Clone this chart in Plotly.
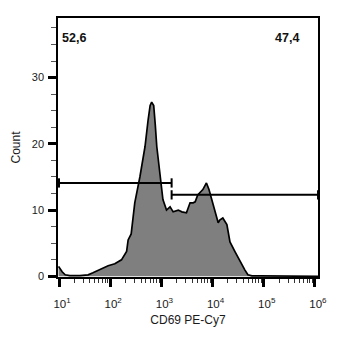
import plotly.graph_objects as go

# Histogram (fluorescence intensity, count)
intensity = [9.8, 10.5, 11.5, 13.2, 16.2, 25.7, 37, 46, 58, 72, 91, 123, 166, 209, 224, 257,
             302, 380, 437, 479, 550, 603, 646, 708, 759, 813, 933, 1072, 1259, 1479, 1698,
             2138, 2512, 3090, 3631, 4169, 4571, 5129, 6457, 7586, 8511, 9550, 11220, 12880,
             13800, 15850, 19050, 21880, 27540, 37150, 42660, 48980, 58880, 85110, 501000, 1148000]
count = [1.5, 1.13, 0.68, 0.23, 0.1, 0.1, 0.23, 0.53, 0.88, 1.28, 1.59, 1.89, 2.49, 3.75, 5.5, 6.4,
         11.1, 15.0, 17.6, 19.6, 23.6, 25.8, 26.3, 25.8, 22.9, 19.6, 15.6, 11.6, 10.0, 10.5, 9.74,
         10.0, 9.74, 9.6, 11.1, 11.1, 11.25, 12.3, 13.1, 14.1, 13.1, 11.6, 9.74, 8.08,
         8.5, 8.8, 7.8, 5.2, 3.7, 1.74, 0.98, 0.23, 0.08, 0.08, 0.05, 0.0]

# Gates
gate_left = [10, 1585]
gate_right = [1585, 1150000]
gate_level_left = 14.1
gate_level_right = 12.3
gate_labels = ["52,6", "47,4"]

x_tickvals = [10, 100, 1000, 10000, 100000, 1000000]
x_ticktext = ["10<sup>1</sup>", "10<sup>2</sup>", "10<sup>3</sup>", "10<sup>4</sup>",
              "10<sup>5</sup>", "10<sup>6</sup>"]
x_minor = [m * d for d in [10, 100, 1000, 10000, 100000] for m in range(2, 10)]
y_tickvals = [0, 10, 20, 30]
y_minor = [v * 2.5 for v in range(1, 16) if v % 4 != 0]

FONT = "Arial, Liberation Sans, sans-serif"
TXT = "#1a1a1a"

fig = go.Figure()
fig.add_trace(go.Scatter(x=intensity, y=count, mode="lines", fill="tozeroy",
                         fillcolor="#7f7f7f", line=dict(color="black", width=1.7),
                         hoverinfo="skip", showlegend=False))


def gate_trace(x0, x1, y, h=0.7):
    xs = [x0, x0, None, x0, x1, None, x1, x1]
    ys = [y - h, y + h, None, y, y, None, y - h, y + h]
    return go.Scatter(x=xs, y=ys, mode="lines", line=dict(color="black", width=2),
                      hoverinfo="skip", showlegend=False, cliponaxis=False)


fig.add_trace(gate_trace(gate_left[0], gate_left[1], gate_level_left))
fig.add_trace(gate_trace(gate_right[0], gate_right[1], gate_level_right))

fig.add_annotation(x=0.062, y=36, xref="x domain", yref="y", text="<b>" + gate_labels[0] + "</b>",
                   showarrow=False, font=dict(family=FONT, size=12.5, color="#111"), xanchor="center")
fig.add_annotation(x=0.88, y=36, xref="x domain", yref="y", text="<b>" + gate_labels[1] + "</b>",
                   showarrow=False, font=dict(family=FONT, size=12.5, color="#111"), xanchor="center")

fig.update_layout(
    width=338, height=345,
    margin=dict(l=58, r=20, t=18, b=68),
    paper_bgcolor="white", plot_bgcolor="white",
    font=dict(family=FONT, size=11, color=TXT),
    xaxis=dict(type="log", range=[0.98, 6.06], showgrid=False, zeroline=False,
               showline=True, linecolor="black", linewidth=1.5, mirror=True,
               tickvals=x_tickvals, ticktext=x_ticktext, ticks="outside",
               ticklen=8, tickwidth=3, tickcolor="black", ticklabelshift=3,
               ticklabelstandoff=7, tickfont=dict(family=FONT, size=11.5, color=TXT),
               minor=dict(tickvals=x_minor, ticks="outside", ticklen=4, tickwidth=1,
                          tickcolor="#333"),
               title=dict(text="CD69 PE-Cy7", font=dict(family=FONT, size=12, color=TXT),
                          standoff=7)),
    yaxis=dict(range=[-0.1, 39], showgrid=False, zeroline=False,
               showline=True, linecolor="black", linewidth=1.5, mirror=True,
               tickvals=y_tickvals, ticks="outside", ticklen=8, tickwidth=3,
               tickcolor="black", ticklabelstandoff=2,
               tickfont=dict(family=FONT, size=11, color=TXT),
               minor=dict(tickvals=y_minor, ticks="outside", ticklen=5, tickwidth=1,
                          tickcolor="#555"),
               title=dict(text="Count", font=dict(family=FONT, size=12, color=TXT),
                          standoff=9)),
)

fig.write_html("out.html")
